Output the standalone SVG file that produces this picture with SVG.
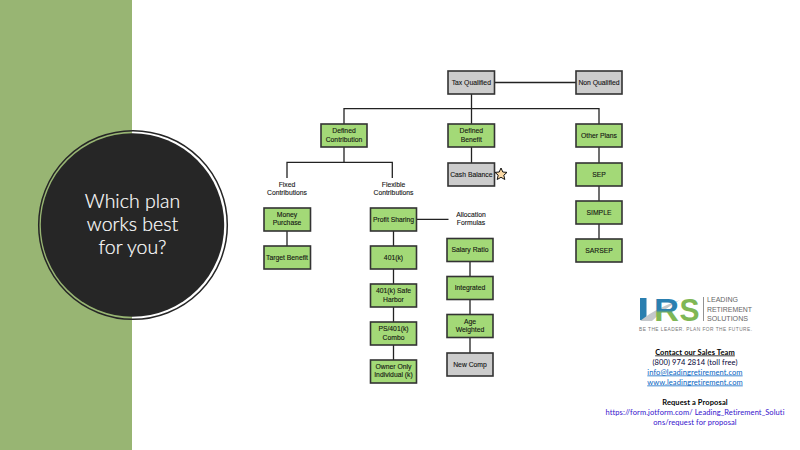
<svg xmlns="http://www.w3.org/2000/svg" width="800" height="450" viewBox="0 0 800 450">
<defs>
<linearGradient id="rfill" x1="0" y1="0" x2="0" y2="1"><stop offset="0.5" stop-color="#2a7fb0"/><stop offset="0.58" stop-color="#7fb755"/></linearGradient>
</defs>
<style>
.n{stroke:#333;stroke-width:1.6}
.g{fill:#a3d977}
.s{fill:#cccccc}
.t{font-family:"Liberation Sans",Arial,sans-serif;font-size:6.800px;fill:#111;text-anchor:middle;stroke:#111;stroke-width:.1;opacity:.99}
.c{fill:none;stroke:#222;stroke-width:1.3}
.o{font-family:"Lato","Liberation Sans",sans-serif;font-size:7.500px;text-anchor:middle;letter-spacing:.1px;opacity:.99}
.h{font-family:"Lato","Liberation Sans",sans-serif;font-size:19.500px;font-weight:300;fill:#fff;stroke:#fff;stroke-width:.2;text-anchor:middle}
.l{font-family:"Liberation Sans",sans-serif;font-size:6.800px;fill:#666}
.b{font-family:"Liberation Sans",sans-serif;font-size:32px;font-weight:700}
</style>
<rect width="800" height="450" fill="#fff"/>
<rect x="0" y="0" width="132" height="450" fill="#98b573"/>
<g id="title">
<circle cx="133" cy="225" r="94.300" fill="none" stroke="#262626" stroke-width="1.500"/>
<circle cx="132.500" cy="225" r="91.700" fill="#262626"/>
<text class="h" x="132.500" y="208">Which plan</text>
<text class="h" x="132.500" y="231">works best</text>
<text class="h" x="132.500" y="254">for you?</text>
</g>
<g id="connectors">
<path class="c" d="M495 82.500H576M471.500 94V124M344 124V108.700H599V124M599 147V163M599 186V201M599 224V239M471.500 147V163M344 147V162.400M287 178V162.400H392.300V178M287 231V246M417 219.300H448.500M393.500 231V246M393.500 269V284M393.500 307V322M393.500 345V360M470 261V276M470 299V314M470 337V353"/>
</g>
<g id="tax-qualified"><rect class="n s" x="448" y="71" width="46.500" height="23"/><text class="t" x="471.300" y="85">Tax Qualified</text></g>
<g id="non-qualified"><rect class="n s" x="576" y="71" width="46" height="23"/><text class="t" x="599" y="85">Non Qualified</text></g>
<g id="defined-contribution"><rect class="n g" x="321" y="124" width="46" height="23"/><text class="t" x="344" y="133">Defined</text><text class="t" x="344" y="141.500">Contribution</text></g>
<g id="defined-benefit"><rect class="n g" x="448" y="124" width="46.500" height="23"/><text class="t" x="471.300" y="133">Defined</text><text class="t" x="471.300" y="141.500">Benefit</text></g>
<g id="other-plans"><rect class="n g" x="576" y="124" width="46" height="23"/><text class="t" x="599" y="138">Other Plans</text></g>
<g id="cash-balance"><rect class="n s" x="448" y="163" width="46.500" height="23"/><text class="t" x="471.300" y="177">Cash Balance</text></g>
<g id="star"><polygon points="501,168 502.800,172 507,172.400 503.800,175.200 504.800,179.500 501,177.300 497.200,179.500 498.200,175.200 495,172.400 499.200,172" fill="#fbd9a5" stroke="#111" stroke-width="1"/></g>
<g id="sep"><rect class="n g" x="576" y="163" width="46" height="23"/><text class="t" x="599" y="176.500">SEP</text></g>
<g id="simple"><rect class="n g" x="576" y="201" width="46" height="23"/><text class="t" x="599" y="214.500">SIMPLE</text></g>
<g id="sarsep"><rect class="n g" x="576" y="239" width="46" height="23"/><text class="t" x="599" y="252.500">SARSEP</text></g>
<g id="fixed-contributions"><text class="t" x="287" y="187">Fixed</text><text class="t" x="287" y="195">Contributions</text></g>
<g id="flexible-contributions"><text class="t" x="393.500" y="187">Flexible</text><text class="t" x="393.500" y="195">Contributions</text></g>
<g id="allocation-formulas"><text class="t" x="471" y="217">Allocation</text><text class="t" x="471" y="225">Formulas</text></g>
<g id="money-purchase"><rect class="n g" x="264" y="208" width="46.500" height="23"/><text class="t" x="287" y="217">Money</text><text class="t" x="287" y="225">Purchase</text></g>
<g id="target-benefit"><rect class="n g" x="264" y="246" width="46.500" height="23"/><text class="t" x="287" y="259.500">Target Benefit</text></g>
<g id="profit-sharing"><rect class="n g" x="370.500" y="208" width="46" height="23"/><text class="t" x="393.500" y="221.500">Profit Sharing</text></g>
<g id="k401"><rect class="n g" x="370.500" y="246" width="46" height="23"/><text class="t" x="393.500" y="259.500">401(k)</text></g>
<g id="safe-harbor"><rect class="n g" x="370.500" y="284" width="46" height="23"/><text class="t" x="393.500" y="293">401(k) Safe</text><text class="t" x="393.500" y="301.500">Harbor</text></g>
<g id="ps401k"><rect class="n g" x="370.500" y="322" width="46" height="23"/><text class="t" x="393.500" y="331">PS/401(k)</text><text class="t" x="393.500" y="339.500">Combo</text></g>
<g id="owner-only"><rect class="n g" x="370.500" y="360" width="46" height="23"/><text class="t" x="393.500" y="369">Owner Only</text><text class="t" x="393.500" y="377">Individual (k)</text></g>
<g id="salary-ratio"><rect class="n g" x="447" y="238.500" width="46" height="23"/><text class="t" x="470" y="252">Salary Ratio</text></g>
<g id="integrated"><rect class="n g" x="447" y="276.500" width="46" height="23"/><text class="t" x="470" y="290">Integrated</text></g>
<g id="age-weighted"><rect class="n g" x="447" y="314.500" width="46" height="23"/><text class="t" x="470" y="323.500">Age</text><text class="t" x="470" y="332">Weighted</text></g>
<g id="new-comp"><rect class="n s" x="447" y="353" width="46" height="23"/><text class="t" x="470" y="367">New Comp</text></g>
<g id="logo">
<rect x="640" y="298" width="6.500" height="22" fill="#2a7fb0"/>
<path d="M640 321C652 311 668 304 680 300C669 306 660 313 652 321Z" fill="#c4c8cb"/>
<text class="b" x="654" y="321" fill="url(#rfill)" textLength="25" lengthAdjust="spacingAndGlyphs">R</text>
<text class="b" x="679.500" y="321" fill="#7fb755" textLength="20" lengthAdjust="spacingAndGlyphs">S</text>
<rect x="703" y="297" width="0.800" height="24" fill="#777"/>
<text class="l" x="707" y="302" textLength="31" lengthAdjust="spacingAndGlyphs">LEADING</text>
<text class="l" x="707" y="312" textLength="45" lengthAdjust="spacingAndGlyphs">RETIREMENT</text>
<text class="l" x="707" y="321" textLength="41" lengthAdjust="spacingAndGlyphs">SOLUTIONS</text>
<text x="639" y="331" font-family="Liberation Sans,sans-serif" font-size="4.800" fill="#777" textLength="113">BE THE LEADER. PLAN FOR THE FUTURE.</text>
</g>
<g id="contact">
<text class="o" x="695" y="354.500" font-weight="700" fill="#000" text-decoration="underline">Contact  our Sales Team</text>
<text class="o" x="695" y="364.500" fill="#000033">(800)  974 2814  (toll free)</text>
<text class="o" x="695" y="374.500" fill="#0563c1" text-decoration="underline">info@leadingretirement.com</text>
<text class="o" x="695" y="384.500" fill="#0563c1" text-decoration="underline">www.leadingretirement.com</text>
<text class="o" x="695" y="404.500" font-weight="700" fill="#000">Request  a Proposal</text>
<text class="o" x="695" y="414.500" fill="#3311cc">https://form.jotform.com/ Leading_Retirement_Soluti</text>
<text class="o" x="695" y="424.500" fill="#3311cc">ons/request for proposal</text>
</g>
</svg>
